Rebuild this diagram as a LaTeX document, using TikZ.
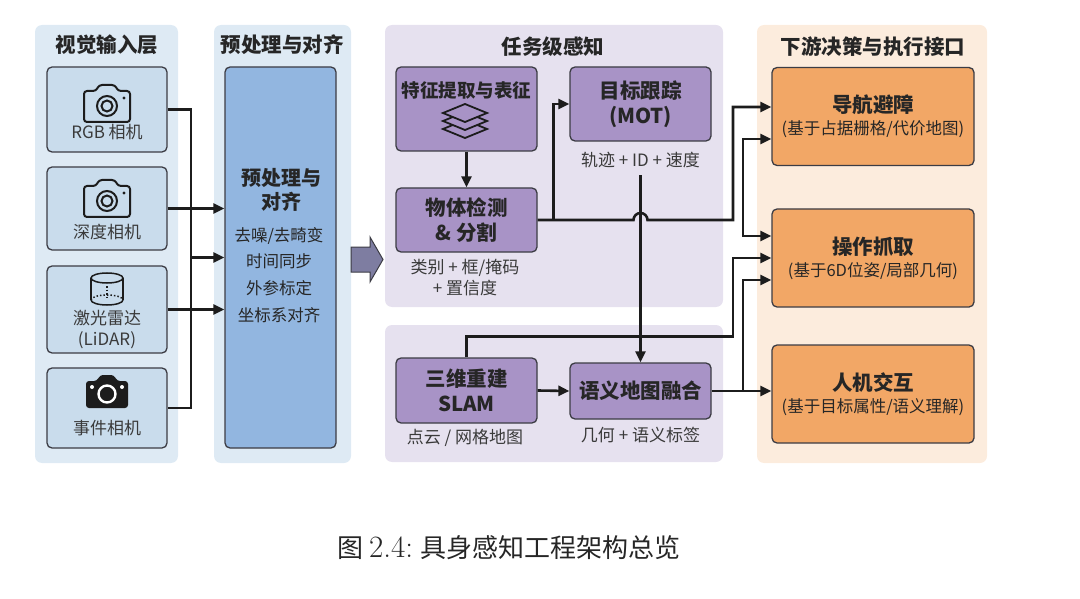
\documentclass[tikz,border=0pt]{standalone}
\usepackage{fontspec}
\setsansfont{Noto Sans CJK SC}
\renewcommand{\familydefault}{\sfdefault}
\usetikzlibrary{positioning,arrows.meta,calc}

\definecolor{panelblue}{HTML}{DEEAF4}
\definecolor{srcblue}{HTML}{C9DCEC}
\definecolor{preblue}{HTML}{92B6E0}
\definecolor{panelpurple}{HTML}{E6E1EF}
\definecolor{taskpurple}{HTML}{A893C6}
\definecolor{panelpeach}{HTML}{FCECDD}
\definecolor{outorange}{HTML}{F2A766}
\definecolor{boxline}{HTML}{3C3C44}
\definecolor{ink}{HTML}{1C1C1C}
\definecolor{txt}{HTML}{262626}
\definecolor{lbltxt}{HTML}{3A3A3A}
\definecolor{flowfill}{HTML}{7E7DA1}

% icons, drawn round a centre given in pixel units
\newcommand{\cameraicon}[1]{%
  \begin{scope}[shift={(#1)},line width=2pt,color=ink]
    \draw[rounded corners=3pt] (-23,-13) -- (-11,-13) -- (-8,-19) -- (8,-19)
      -- (11,-13) -- (23,-13) -- (23,18) -- (-23,18) -- cycle;
    \draw (0,2) circle[radius=10pt];
    \draw (0,2) circle[radius=5.5pt];
    \fill (17,-6) circle[radius=1.6pt];
  \end{scope}}
\newcommand{\eventicon}[1]{%
  \begin{scope}[shift={(#1)},color=ink]
    \fill[rounded corners=3pt] (-21,-11) -- (-10,-11) -- (-7,-17) -- (7,-17)
      -- (10,-11) -- (21,-11) -- (21,16) -- (-21,16) -- cycle;
    \draw[white,line width=2.4pt] (0,2) circle[radius=8.5pt];
    \fill[white] (-15,-5) circle[radius=2pt];
    \fill[white] (15,-5) circle[radius=2pt];
  \end{scope}}
\newcommand{\lidaricon}[1]{%
  \begin{scope}[shift={(#1)},line width=1.5pt,color=ink]
    \draw (0,-11) ellipse[x radius=16pt,y radius=5pt];
    \draw (-16,-11) -- (-16,11);
    \draw (16,-11) -- (16,11);
    \draw (-16,11) arc[start angle=180,end angle=360,x radius=16pt,y radius=5pt];
    \draw[dotted] (-16,11) arc[start angle=180,end angle=0,x radius=16pt,y radius=5pt];
    \draw[dotted] (0,-3) -- (0,9);
  \end{scope}}
\newcommand{\layersicon}[1]{%
  \begin{scope}[shift={(#1)},line width=1.8pt,color=ink]
    \foreach \dy in {8,0,-8}
      \draw[fill=taskpurple] (-22,\dy) -- (0,\dy-9) -- (22,\dy) -- (0,\dy+9) -- cycle;
  \end{scope}}

\begin{document}
\begin{tikzpicture}[x=1pt,y=-1pt,
  font=\fontsize{17}{21}\selectfont, text=txt,
  >={Triangle[length=11pt,width=10pt]},
  panel/.style={rounded corners=7pt,inner sep=0pt},
  ttl/.style={font=\fontsize{20.5}{24}\selectfont\bfseries},
  srcbox/.style={draw=boxline,line width=1.3pt,rounded corners=5pt,fill=srcblue,
    minimum width=120pt,inner sep=0pt},
  taskbox/.style={draw=boxline,line width=1.3pt,rounded corners=5pt,fill=taskpurple,
    minimum width=141pt,inner sep=0pt,align=center,
    font=\fontsize{20.5}{25}\selectfont\bfseries},
  outbox/.style={draw=boxline,line width=1.3pt,rounded corners=5pt,fill=outorange,
    minimum width=202pt,minimum height=98pt,inner sep=0pt,align=center,
    font=\fontsize{16.5}{21}\selectfont},
  lbl/.style={align=center,text=lbltxt},
  conn/.style={line width=2.6pt,draw=ink},
  arr/.style={conn,->},
]
\useasboundingbox (0,0) rectangle (1080,599);

% panels
\node[panel,fill=panelblue,minimum width=143pt,minimum height=438pt] (inpanel) at (106.5,244) {};
\node[panel,fill=panelblue,minimum width=137pt,minimum height=438pt] (prepanel) at (282.5,244) {};
\node[panel,fill=panelpurple,minimum width=338pt,minimum height=282pt] (taskpanel) at (554,166) {};
\node[panel,fill=panelpurple,minimum width=338pt,minimum height=137pt] (mappanel) at (554,393.5) {};
\node[panel,fill=panelpeach,minimum width=230pt,minimum height=438pt] (outpanel) at (872,244) {};

\node[ttl] (inttl) at (107,45) {视觉输入层};
\node[ttl] (prettl) at (282,45) {预处理与对齐};
\node[ttl] (taskttl) at (553,47) {任务级感知};
\node[ttl] (outttl) at (873,47) {下游决策与执行接口};

% sensors
\node[srcbox,minimum height=85pt] (rgb) at (107,109.5) {};
\node[srcbox,minimum height=83pt] (depth) at (107,208.5) {};
\node[srcbox,minimum height=87pt] (lidar) at (107,309.5) {};
\node[srcbox,minimum height=80pt] (event) at (107,408) {};
\cameraicon{107,104}
\cameraicon{107,199}
\lidaricon{107,289}
\eventicon{107,392}
\node[lbl] (rgbtxt) at (107,132) {RGB 相机};
\node[lbl] (depthtxt) at (107,232) {深度相机};
\node[lbl] (lidartxt) at (107,330) {激光雷达\\(LiDAR)};
\node[lbl] (eventtxt) at (107,428) {事件相机};

% preprocessing
\node[draw=boxline,line width=1.3pt,rounded corners=5pt,fill=preblue,
  minimum width=111pt,minimum height=381pt] (pre) at (280.5,257.5) {};
\node[align=center,font=\fontsize{20}{24}\selectfont\bfseries] (pretxt) at (281,190) {预处理与\\对齐};
\node[align=center,font=\fontsize{16.5}{26.7}\selectfont] (prelist) at (279,275)
  {去噪/去畸变\\时间同步\\外参标定\\坐标系对齐};

\draw[draw=boxline,line width=1pt,fill=flowfill] (351,247) -- (370,247) -- (370,237)
  -- (383,259.5) -- (370,282) -- (370,272) -- (351,272) -- cycle;

% task level perception
\node[taskbox,minimum height=84pt] (feat) at (466.5,109) {};
\node[font=\fontsize{18.5}{20}\selectfont\bfseries] (feattxt) at (466.5,90) {特征提取与表征};
\layersicon{465,121}
\node[taskbox,minimum height=74pt] (mot) at (640.5,104) {目标跟踪\\(MOT)};
\node[taskbox,minimum height=64pt] (det) at (466.5,220) {物体检测\\\& 分割};
\node[lbl] (motlbl) at (640.5,160) {轨迹 + ID + 速度};
\node[lbl] (detlbl) at (465,278) {类别 + 框/掩码\\+ 置信度};

\node[taskbox,minimum height=65pt] (slam) at (466.5,390.5) {三维重建\\SLAM};
\node[taskbox,minimum height=56pt] (sem) at (640.5,391) {语义地图融合};
\node[lbl] (slamlbl) at (465,438) {点云 / 网格地图};
\node[lbl] (semlbl) at (640.5,435) {几何 + 语义标签};

% downstream
\node[outbox] (nav) at (873,116.5)
  {{\fontsize{20.5}{24}\selectfont\bfseries 导航避障}\\[1pt](基于占据栅格/代价地图)};
\node[outbox] (grasp) at (873,258)
  {{\fontsize{20.5}{24}\selectfont\bfseries 操作抓取}\\[1pt](基于6D位姿/局部几何)};
\node[outbox] (hri) at (873,394)
  {{\fontsize{20.5}{24}\selectfont\bfseries 人机交互}\\[1pt](基于目标属性/语义理解)};

% connectors
\coordinate (bus) at (191,257.5);
\coordinate (railA) at (733,0);
\coordinate (railB) at (743,0);
\coordinate (detfork) at ($(det.east)+(16,0)$);
\coordinate (hop) at (mot.south |- det.east);

\draw[conn] (rgb.east) -| (bus |- event.east) -- (event.east);
\draw[arr] (depth.east) -- (depth.east -| pre.west);
\draw[arr] (bus) -- (pre.west);
\draw[arr] (lidar.east) -- (lidar.east -| pre.west);

\draw[arr] (feat.south) -- (det.north);
\draw[arr] (detfork) |- (mot.west);
\draw[arr] (det.east) -- ($(hop)+(-7,0)$) arc[start angle=180,end angle=0,radius=7pt]
  -- (det.east -| railA) |- ($(nav.west)+(0,-9.5)$);
\draw[arr] ($(motlbl.south)+(0,4)$) -- (sem.north);
\draw[arr] (slam.east) -- (sem.west);
\draw[arr] (slam.north) -- ++(0,-21) -| (railA |- grasp.west) -- (grasp.west);
\draw[arr] (sem.east) -- (sem.east -| hri.west);
\draw[arr] (sem.east -| railB) |- ($(grasp.west)+(0,22)$);
\draw[conn,<->] ($(nav.west)+(0,22.5)$) -| ($(grasp.west -| railB)+(0,-22)$)
  -- ($(grasp.west)+(0,-22)$);

% caption
\node[font=\fontsize{26}{30}\selectfont] (caption) at (509,548)
  {图 {\rmfamily\fontsize{31}{30}\selectfont 2.4:} 具身感知工程架构总览};
\end{tikzpicture}
\end{document}
